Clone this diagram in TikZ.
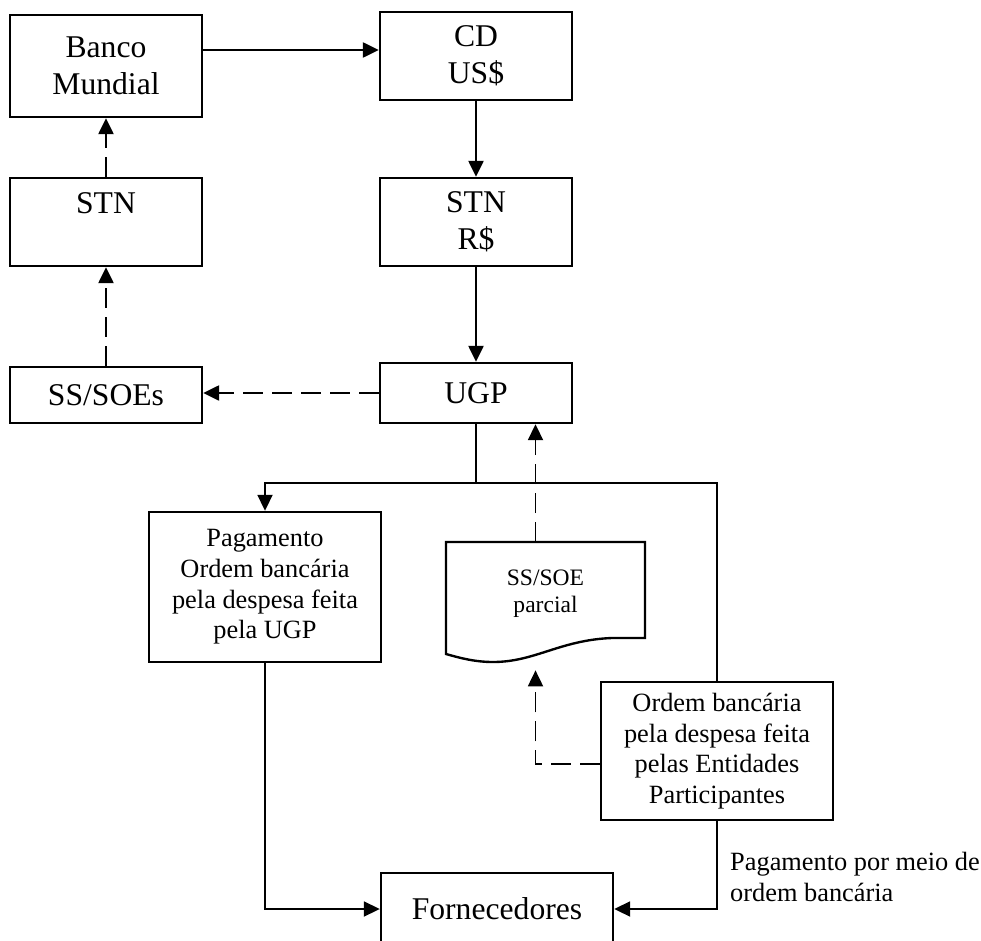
\documentclass[tikz,border=0pt]{standalone}
\usepackage{fontspec}
\setmainfont{Liberation Serif}
\usetikzlibrary{arrows.meta}
\newcommand{\bigfont}{\fontsize{18}{21.2}\selectfont}
\newcommand{\smallfont}{\fontsize{15}{17.4}\selectfont}
\newcommand{\docfont}{\fontsize{13.4}{15.4}\selectfont}

\begin{document}
\begin{tikzpicture}[
  every node/.style={font=\bigfont},
  blockbox/.style={draw, line width=1.35pt, align=center, inner sep=0pt,
                   minimum width=3.84cm},
  widebox/.style={blockbox, minimum width=4.64cm, font=\smallfont},
  flow/.style={line width=1.35pt, -{Triangle[length=0.32cm,width=0.3cm]}},
  flowdash/.style={flow, dash pattern=on 0.4cm off 0.18cm},
  thin/.style={line width=1.05pt}
]
  \useasboundingbox (0,0) rectangle (19.62,-18.82);

  % --- Left column (reporting chain) ---
  \node[blockbox, minimum height=2.04cm] (banco) at (2.12,-1.32) {Banco\\Mundial};
  \node[blockbox, minimum height=1.76cm] (stnl)  at (2.12,-4.44) {STN\\\mbox{}};
  \node[blockbox, minimum height=1.12cm] (soes)  at (2.12,-7.90) {SS/SOEs};

  % --- Right column (funds) ---
  \node[blockbox, minimum height=1.76cm] (cd)    at (9.52,-1.12) {CD\\US\$};
  \node[blockbox, minimum height=1.76cm] (stnr)  at (9.52,-4.44) {STN\\R\$};
  \node[blockbox, minimum height=1.20cm] (ugp)   at (9.52,-7.86) {UGP};

  % --- Payments ---
  \node[widebox, minimum height=3.00cm] (pag) at (5.30,-11.74)
    {Pagamento\\Ordem bancária\\pela despesa feita\\pela UGP};
  \node[widebox, minimum height=2.76cm] (ordem) at (14.34,-15.02)
    {Ordem bancária\\pela despesa feita\\pelas Entidades\\Participantes};
  \node[blockbox, minimum width=4.64cm, minimum height=1.44cm] (forn) at (9.94,-18.18)
    {Fornecedores};
  \node[font=\smallfont, align=left, anchor=west] (paglbl) at (14.48,-17.54)
    {Pagamento por meio de\\ordem bancária};

  % --- Document shape (partial SS/SOE) ---
  \node[font=\docfont, align=center, inner sep=0pt,
        minimum width=3.98cm, minimum height=2.40cm] (doc) at (10.91,-12.10)
    {SS/SOE\\parcial\\\mbox{}};
  \draw[line width=1.35pt] (8.92,-13.08) -- (8.92,-10.84) -- (12.90,-10.84)
    -- (12.90,-12.76) -- (12.24,-12.76)
    .. controls (11.20,-12.80) and (10.70,-13.24) .. (9.86,-13.24)
    .. controls (9.50,-13.24) and (9.20,-13.16) .. (8.92,-13.08) -- cycle;

  % --- Solid arrows ---
  \coordinate (cdin) at ([yshift=0.12cm]cd.west);
  \draw[flow] (banco.east |- cdin) -- (cdin);
  \draw[flow] (cd) -- (stnr);
  \draw[flow] (stnr) -- (ugp);

  % --- Dashed arrows (reporting) ---
  \draw[flowdash] (ugp.west) -- (ugp.west -| soes.east);
  \draw[flowdash] (soes) -- (stnl);
  \draw[flowdash] (stnl) -- (banco);

  \coordinate (docup) at ([xshift=-0.2cm]doc.north);
  \coordinate (docin) at ([xshift=-0.2cm,yshift=-0.1cm]doc.south);
  \draw[flowdash, thin] (docup |- 0,-10.84) -- (docup |- ugp.south);
  \draw[flowdash, thin] ([yshift=-0.26cm]ordem.west) -| (docin);

  % --- Split below UGP ---
  \coordinate (split) at (9.52,-9.66);
  \draw[thin] (ugp.south) -- (split);
  \draw[flow, thin] (split) -| (pag.north);
  \draw[thin] (split) -| (ordem.north);

  % --- Into Fornecedores ---
  \draw[flow, thin] (pag.south) |- (forn.west);
  \draw[flow, thin] (ordem.south) |- (forn.east);
\end{tikzpicture}
\end{document}
